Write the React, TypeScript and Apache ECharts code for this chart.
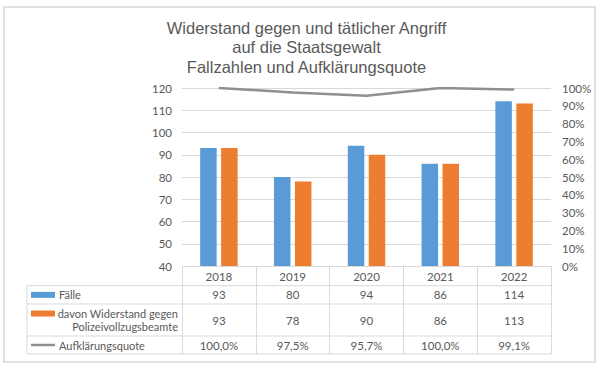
import React, { useEffect, useRef } from "react";
import * as echarts from "echarts";

const titleLines = [
  "Widerstand gegen und tätlicher Angriff",
  "auf die Staatsgewalt",
  "Fallzahlen und Aufklärungsquote",
];
const years = ["2018", "2019", "2020", "2021", "2022"];
const faelle = [93, 80, 94, 86, 114];
const polizei = [93, 78, 90, 86, 113];
const quote = [100.0, 97.5, 95.7, 100.0, 99.1];
const seriesNames = ["Fälle", "davon Widerstand gegen\nPolizeivollzugsbeamte", "Aufklärungsquote"];

const COLORS = ["#5B9BD5", "#ED7D31", "#8f8f8f"];
const TXT = "#595959";
const GRIDC = "#d9d9d9";
const FONT = "Lato";
const FS = 11.5;

const W = 600, H = 370;
const GL = 182, GR = 49, GT = 88, GB = 104;
const TABLE_LEFT = 27;
const ROW_Y = [285.7, 304, 336, 354];

const fmtPct = (v: number) => v.toFixed(1).replace(".", ",") + "%";

export default function App() {
  const ref = useRef<HTMLDivElement>(null);
  useEffect(() => {
    if (!ref.current) return;
    const chart = echarts.init(ref.current, undefined, { renderer: "svg" });
    const plotRight = W - GR;
    const plotBottom = H - GB;
    const catW = (plotRight - GL) / years.length;
    const cx = (i: number) => GL + (i + 0.5) * catW;

    const graphics: any[] = [];
    graphics.push({
      type: "rect",
      shape: { x: 4, y: 7, width: 591, height: 355 },
      style: { fill: "none", stroke: GRIDC, lineWidth: 1.5 },
      silent: true,
    });
    ROW_Y.forEach((y) => {
      graphics.push({
        type: "line",
        shape: { x1: TABLE_LEFT, y1: y, x2: plotRight, y2: y },
        style: { stroke: GRIDC, lineWidth: 1 },
      });
    });
    graphics.push({
      type: "line",
      shape: { x1: TABLE_LEFT, y1: ROW_Y[0], x2: TABLE_LEFT, y2: ROW_Y[3] },
      style: { stroke: GRIDC, lineWidth: 1 },
    });
    const rowCenters = [
      (ROW_Y[0] + ROW_Y[1]) / 2,
      (ROW_Y[1] + ROW_Y[2]) / 2,
      (ROW_Y[2] + ROW_Y[3]) / 2,
    ];
    const rows = [
      faelle.map((v) => String(v)),
      polizei.map((v) => String(v)),
      quote.map(fmtPct),
    ];
    [0, 1].forEach((k) => {
      graphics.push({
        type: "rect",
        shape: { x: 31, y: rowCenters[k] - 3 - (k === 1 ? 6.5 : 0), width: 24, height: 6 },
        style: { fill: COLORS[k] },
      });
    });
    graphics.push({
      type: "line",
      shape: { x1: 31, y1: rowCenters[2], x2: 55, y2: rowCenters[2] },
      style: { stroke: COLORS[2], lineWidth: 2.5 },
    });
    seriesNames.forEach((name, k) => {
      const multi = name.includes("\n");
      graphics.push({
        type: "text",
        x: multi ? 178 : 59,
        y: rowCenters[k],
        style: {
          text: name,
          fill: TXT,
          font: `11px ${FONT}`,
          align: multi ? "right" : "left",
          verticalAlign: "middle",
          lineHeight: 13.5,
        },
      });
    });
    rows.forEach((vals, r) => {
      vals.forEach((t, i) => {
        graphics.push({
          type: "text",
          x: cx(i),
          y: rowCenters[r],
          style: {
            text: t,
            fill: TXT,
            font: `${FS}px ${FONT}`,
            align: "center",
            verticalAlign: "middle",
          },
        });
      });
    });

    chart.setOption({
      animation: false,
      backgroundColor: "#ffffff",
      title: {
        text: titleLines.join("\n"),
        left: 301.5,
        top: 13.5,
        textAlign: "center",
        textStyle: {
          fontFamily: "Liberation Sans",
          fontSize: 16.5,
          fontWeight: "normal",
          color: TXT,
          lineHeight: 19.3,
        },
      },
      grid: { left: GL, right: GR, top: GT, bottom: GB, containLabel: false },
      xAxis: {
        type: "category",
        data: years,
        axisLine: { lineStyle: { color: GRIDC, width: 1 } },
        axisTick: { show: true, length: ROW_Y[3] - plotBottom, lineStyle: { color: GRIDC } },
        axisLabel: { color: TXT, fontFamily: FONT, fontSize: FS, margin: 4 },
      },
      yAxis: [
        {
          type: "value",
          min: 40,
          max: 120,
          interval: 10,
          axisLine: { show: false },
          axisTick: { show: false },
          splitLine: { lineStyle: { color: GRIDC, width: 1 } },
          axisLabel: { color: TXT, fontFamily: FONT, fontSize: FS, margin: 10 },
        },
        {
          type: "value",
          min: 0,
          max: 100,
          interval: 10,
          axisLine: { show: false },
          axisTick: { show: false },
          splitLine: { show: false },
          axisLabel: { color: TXT, fontFamily: FONT, fontSize: FS, margin: 11, formatter: "{value}%" },
        },
      ],
      series: [
        {
          name: "Fälle",
          type: "bar",
          data: faelle,
          barWidth: 16.5,
          barGap: "27%",
          itemStyle: { color: COLORS[0] },
        },
        {
          name: "davon Widerstand gegen Polizeivollzugsbeamte",
          type: "bar",
          data: polizei,
          barWidth: 16.5,
          barGap: "27%",
          itemStyle: { color: COLORS[1] },
        },
        {
          name: "Aufklärungsquote",
          type: "line",
          yAxisIndex: 1,
          data: quote,
          symbol: "none",
          lineStyle: { color: COLORS[2], width: 2.5 },
        },
      ],
      graphic: graphics,
    });
    return () => chart.dispose();
  }, []);
  return (
    <div
      ref={ref}
      style={{ position: "absolute", left: 0, top: 0, width: W, height: H, background: "#fff" }}
    />
  );
}
